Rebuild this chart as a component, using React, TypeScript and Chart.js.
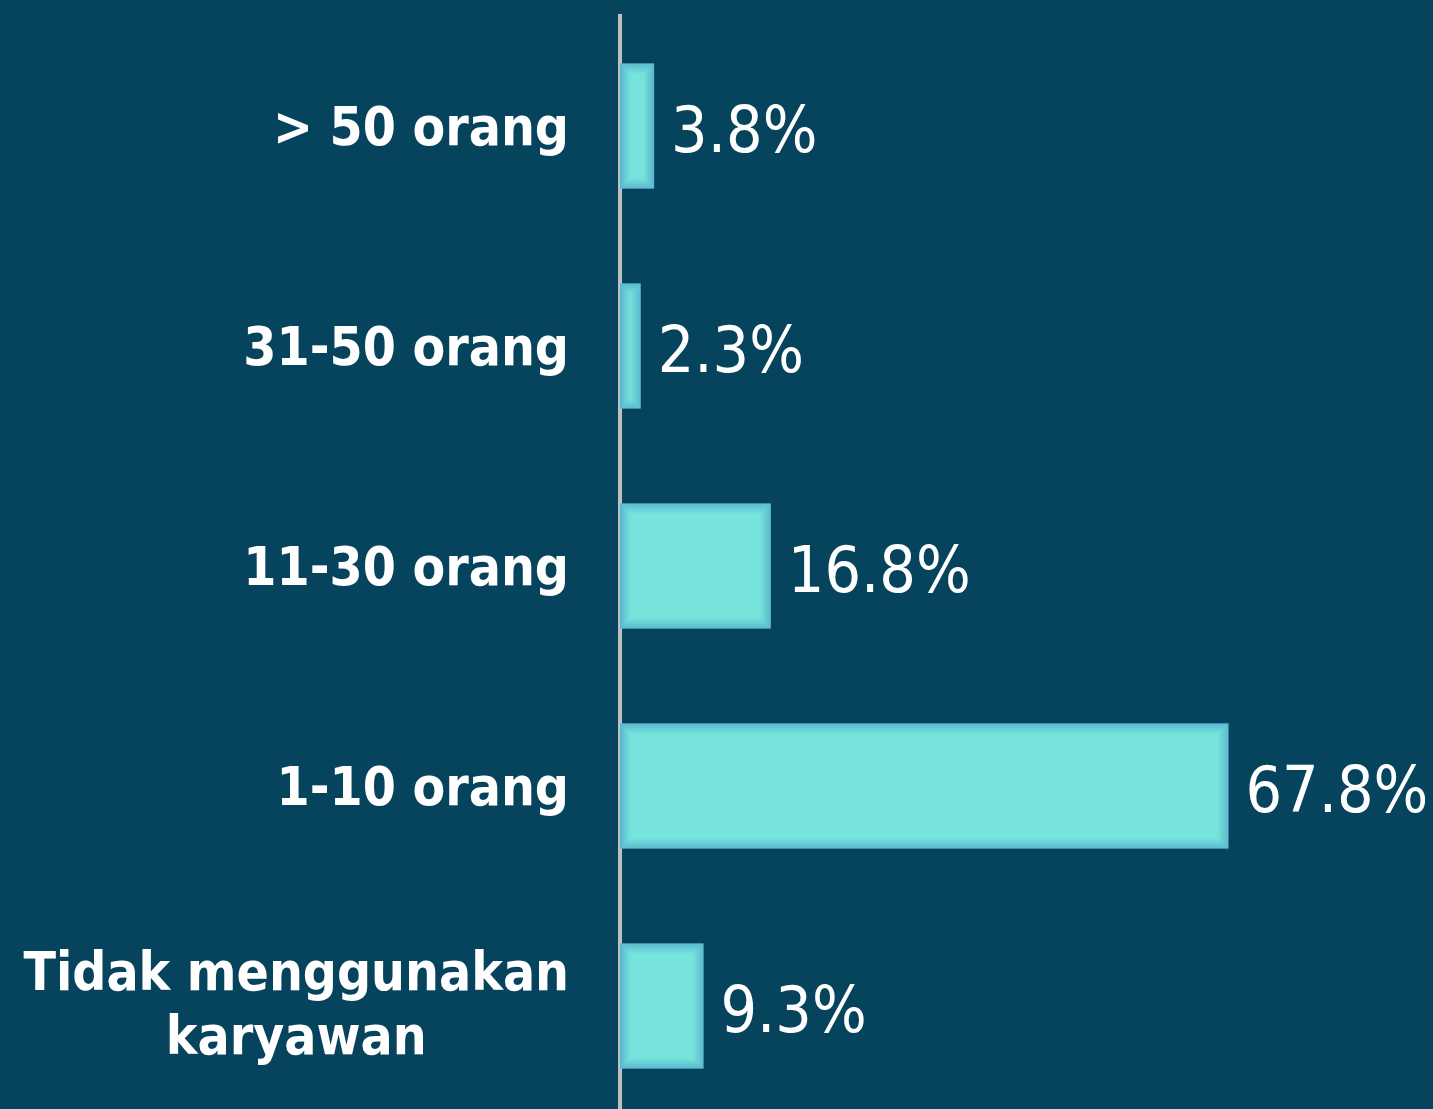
import React, { useEffect, useRef } from "react";
import { Chart, registerables } from "chart.js";

Chart.register(...registerables);

const categories = ["> 50 orang", "31-50 orang", "11-30 orang", "1-10 orang", "Tidak menggunakan karyawan"];
const categoryLines = [["> 50 orang"], ["31-50 orang"], ["11-30 orang"], ["1-10 orang"], ["Tidak menggunakan", "karyawan"]];
const values = [3.8, 2.3, 16.8, 67.8, 9.3];

const BG = "#06435C";
const BAR = "#76E4DB";
const LABEL_FONT = "bold 53px 'DejaVu Sans Condensed', 'DejaVu Sans', sans-serif";
const VALUE_FONT = "64px 'DejaVu Sans Condensed', 'DejaVu Sans', sans-serif";

const bgPlugin = {
  id: "bg",
  beforeDraw(chart: any) {
    const ctx = chart.ctx;
    ctx.save();
    ctx.fillStyle = BG;
    ctx.fillRect(0, 0, chart.width, chart.height);
    ctx.restore();
  },
};

const decoPlugin = {
  id: "deco",
  afterDatasetsDraw(chart: any) {
    const ctx = chart.ctx;
    const meta = chart.getDatasetMeta(0);
    ctx.save();
    meta.data.forEach((bar: any, i: number) => {
      const left = Math.min(bar.base, bar.x);
      const right = Math.max(bar.base, bar.x);
      const top = bar.y - bar.height / 2;
      const h = bar.height;
      for (let k = 0; k < 10; k++) {
        const a = 0.55 * (1 - k / 10);
        ctx.strokeStyle = `rgba(70,145,200,${a.toFixed(3)})`;
        ctx.lineWidth = 1;
        ctx.strokeRect(left + k + 0.5, top + k + 0.5, right - left - 2 * k - 1, h - 2 * k - 1);
      }
      ctx.fillStyle = "#FFFFFF";
      ctx.font = VALUE_FONT;
      ctx.textAlign = "left";
      ctx.textBaseline = "alphabetic";
      ctx.fillText(values[i].toFixed(1) + "%", right + 17, bar.y + 26);
    });
    ctx.restore();
  },
  afterDraw(chart: any) {
    const ctx = chart.ctx;
    const yScale = chart.scales.y;
    ctx.save();
    ctx.fillStyle = "#FFFFFF";
    ctx.font = LABEL_FONT;
    ctx.textAlign = "center";
    ctx.textBaseline = "alphabetic";
    const rightEdge = 569;
    const lh = 64;
    categoryLines.forEach((lines, i) => {
      const y = yScale.getPixelForTick(i);
      const widest = Math.max(...lines.map((l) => ctx.measureText(l).width));
      const cx = rightEdge - widest / 2;
      lines.forEach((line, j) => {
        const by = y + 19 + (j - (lines.length - 1) / 2) * lh - (lines.length > 1 ? 3 : 0);
        ctx.fillText(line, cx, by);
      });
    });
    ctx.restore();
  },
};

export default function App() {
  const ref = useRef<HTMLCanvasElement | null>(null);
  useEffect(() => {
    if (!ref.current) return;
    const chart = new Chart(ref.current, {
      type: "bar",
      data: {
        labels: categories,
        datasets: [
          {
            data: values,
            backgroundColor: BAR,
            borderWidth: 0,
            barPercentage: 125 / 220,
            categoryPercentage: 1,
          },
        ],
      },
      options: {
        indexAxis: "y",
        animation: false,
        responsive: true,
        maintainAspectRatio: false,
        devicePixelRatio: 1,
        layout: { padding: { top: 16, left: 0, right: 0, bottom: 0 } },
        plugins: { legend: { display: false }, tooltip: { enabled: false }, title: { display: false } },
        scales: {
          x: { display: false, min: 0, max: 90.6, grid: { display: false } },
          y: {
            z: 1,
            grid: { display: false },
            border: { display: true, color: "#BFBFBF", width: 4 },
            ticks: { color: "rgba(0,0,0,0)", font: { size: 10 } },
            afterFit(scale: any) {
              scale.width = 620;
            },
          },
        },
      },
      plugins: [bgPlugin, decoPlugin],
    } as any);
    return () => chart.destroy();
  }, []);
  return (
    <div style={{ position: "fixed", left: 0, top: 0, width: 1433, height: 1109, overflow: "hidden", background: BG }}>
      <div style={{ position: "relative", width: 1433, height: 1125 }}>
        <canvas ref={ref} />
      </div>
    </div>
  );
}
